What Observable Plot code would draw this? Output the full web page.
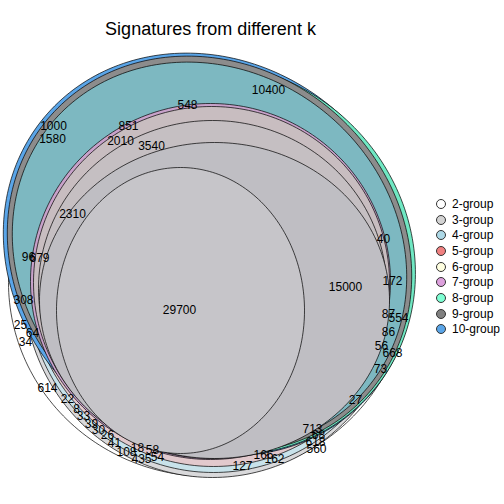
<!DOCTYPE html>
<html><head><meta charset="utf-8">
<script src="https://cdn.jsdelivr.net/npm/d3@7"></script>
<script src="https://cdn.jsdelivr.net/npm/@observablehq/plot@0.6"></script>
<style>
body{margin:0;background:#fff;font-family:"Liberation Sans",Arial,Helvetica,sans-serif;}
#wrap{position:relative;width:504px;height:504px;overflow:hidden;}
#title{position:absolute;left:0;top:18px;width:421px;text-align:center;font-size:18px;line-height:22px;color:#000;}
#legend{position:absolute;left:436px;top:196px;font-size:12px;color:#000;}
.row{height:15.7px;display:flex;align-items:center;white-space:nowrap;}
.sw{width:8px;height:8px;border-radius:50%;border:1px solid #333;margin-right:6px;flex:none;}
</style></head><body>
<div id="wrap"><div id="chart"></div><div id="title">Signatures from different k</div><div id="legend"></div></div>
<script>
// ---- data ----
const groups = ["2-group","3-group","4-group","5-group","6-group","7-group","8-group","9-group","10-group"];
const groupColors = ["#FFFFFF","#D3D3D3","#ADD8E6","#F08080","#FFFFE0","#DDA0DD","#7FFFD4","#808080","#5AA5E8"];
const labelValues = ["10400","548","1000","1580","851","2010","3540","2310","96","679",
  "308","25","64","34","614","22","8","33","39","30","26","41","108","18","58","435","54",
  "166","162","127","713","68","618","560","27",
  "40","172","15000","87","554","86","56","668","73","29700"];

// ---- layout (positions in page pixels) ----
const labelPos = [[268,90],[187,105],[53,126],[52,139],[128,126],[120,141],[151,146],[72,214],[28,257],[39,258],
  [23,300],[20,325],[32,333],[25,342],[47,388],[67,399],[76,409],[83,416],[91,424],[98,430],[107,435],[114,443],[126,452],[137,448],[152,450],[141,459],[157,457],
  [263,455],[274,459],[242,466],[312,429],[318,435],[315,442],[316,449],[355,400],
  [383,239],[392,281],[345,287],[388,314],[398,318],[388,332],[381,346],[392,353],[380,369],[179,310]];

// shapes: [cx, cy, rx, ry, rotation(deg), fill]
const shapes = [
  [208,282,200,194,0,"#FFFFFF"],   // 2-group lower extent
  [212,283,189,194,0,"#D9D9DB"],   // 3-group lower band
  [213,281,187,191,0,"#C8E2EA"],   // 4-group lower band
  [213,280,184,186,0,"#E2C9CD"],   // 5-group lower band
  [208,254,214,192,40,"#5AA5E8"],  // 10-group
  [216,258,205,190,40,"#70E8C3"],  // 8-group
  [209,254,211,189,40,"#8C8C8C"],  // 9-group
  [209,255,206,184,40,"#7DB8C1"],  // 10/9/8 overlap
  [210,281,180,178,0,"#C8A2CA"],   // 7-group
  [211,282,178,176,0,"#C8BDC0"],   // 6-group
  [212,288,174,168,0,"#C5BFC2"],   // 5/4 boundary
  [214,300,175,158,0,"#BFBEC3"],   // 3-group (15000)
  [180,310,124,143,0,"#C6C5C9"]    // 2-group core (29700)
];

function ellipse(cx,cy,rx,ry,rot,n=240){
  const t=rot*Math.PI/180, c=Math.cos(t), s=Math.sin(t);
  return d3.range(n).map(i=>{const a=2*Math.PI*i/n; const u=rx*Math.cos(a), v=ry*Math.sin(a);
    return {x:cx+u*c-v*s, y:cy+u*s+v*c};});
}

const labels = labelValues.map((v,i)=>({v, x:labelPos[i][0], y:labelPos[i][1]}));
const marks = shapes.map(([cx,cy,rx,ry,rot,fill])=>Plot.line(ellipse(cx,cy,rx,ry,rot),{x:"x",y:"y",curve:"linear-closed",fill,stroke:"#000",strokeWidth:0.7}));
marks.push(Plot.text(labels,{x:"x",y:"y",text:"v",fontSize:12,fill:"#000",fontFamily:"Liberation Sans, Arial, sans-serif"}));

const chart = Plot.plot({width:504,height:504,margin:0,
  x:{domain:[0,504],range:[0,504],axis:null},
  y:{domain:[0,504],range:[0,504],axis:null},
  style:{background:"transparent"},
  marks});
document.getElementById("chart").appendChild(chart);

const leg=document.getElementById("legend");
groups.forEach((g,i)=>{const r=document.createElement("div");r.className="row";
  const sw=document.createElement("span");sw.className="sw";sw.style.background=groupColors[i];
  const t=document.createElement("span");t.textContent=g;r.appendChild(sw);r.appendChild(t);leg.appendChild(r);});
</script></body></html>
